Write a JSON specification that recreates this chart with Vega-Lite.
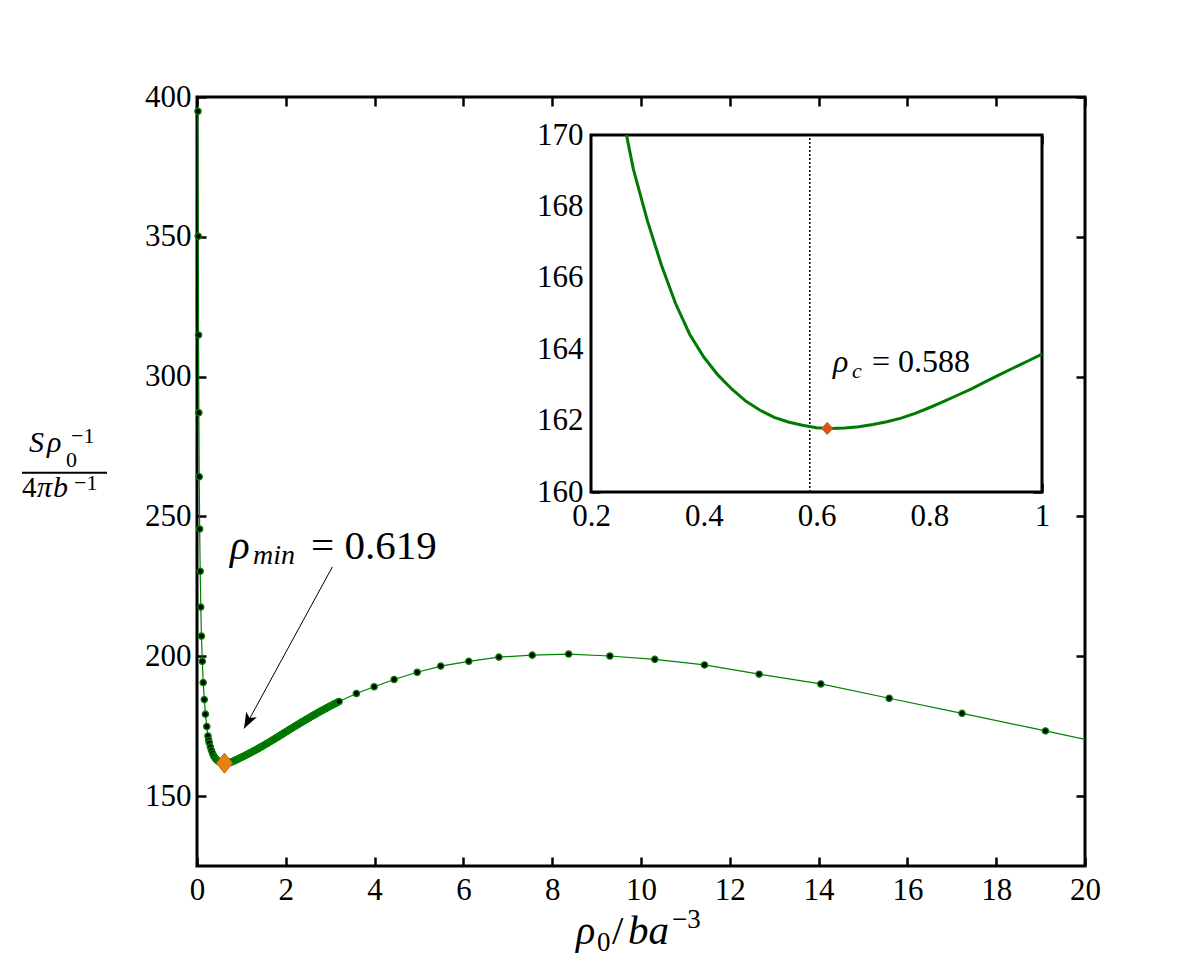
{
  "$schema": "https://vega.github.io/schema/vega-lite/v6.json",
  "width": 888,
  "height": 769,
  "autosize": {"type": "none"},
  "padding": {"left": 197, "top": 97, "right": 115, "bottom": 108},
  "background": "white",
  "config": {
    "view": {"stroke": "black", "strokeWidth": 3},
    "font": "Liberation Serif",
    "axis": {"labelFont": "Liberation Serif", "labelFontSize": 31, "labelColor": "black", "labelFlush": false, "tickColor": "black", "tickWidth": 2.5, "tickSize": -9, "domain": false, "grid": false, "title": null},
    "text": {"font": "Liberation Serif", "color": "black"}
  },
  "datasets": {
    "curve": [
      {"rho": 0.022, "S": 394.9}, {"rho": 0.028, "S": 350.2}, {"rho": 0.035, "S": 314.9}, {"rho": 0.042, "S": 287.1},
      {"rho": 0.05, "S": 264.2}, {"rho": 0.06, "S": 245.5}, {"rho": 0.072, "S": 230.4}, {"rho": 0.085, "S": 217.6},
      {"rho": 0.1, "S": 207.2}, {"rho": 0.12, "S": 198.2}, {"rho": 0.14, "S": 190.6}, {"rho": 0.165, "S": 184.5},
      {"rho": 0.19, "S": 179.3}, {"rho": 0.22, "S": 174.9}, {"rho": 0.247, "S": 171.5},
      {"rho": 0.263, "S": 170.0}, {"rho": 0.275, "S": 169.05}, {"rho": 0.3, "S": 167.6}, {"rho": 0.325, "S": 166.35},
      {"rho": 0.35, "S": 165.28}, {"rho": 0.375, "S": 164.42}, {"rho": 0.4, "S": 163.78}, {"rho": 0.425, "S": 163.28},
      {"rho": 0.45, "S": 162.88}, {"rho": 0.475, "S": 162.54}, {"rho": 0.5, "S": 162.29}, {"rho": 0.525, "S": 162.09},
      {"rho": 0.55, "S": 161.96}, {"rho": 0.575, "S": 161.87}, {"rho": 0.6, "S": 161.8}, {"rho": 0.625, "S": 161.78},
      {"rho": 0.65, "S": 161.79}, {"rho": 0.675, "S": 161.83}, {"rho": 0.7, "S": 161.89}, {"rho": 0.725, "S": 161.97},
      {"rho": 0.75, "S": 162.07}, {"rho": 0.775, "S": 162.2}, {"rho": 0.8, "S": 162.36}, {"rho": 0.825, "S": 162.53},
      {"rho": 0.85, "S": 162.71}, {"rho": 0.875, "S": 162.89}, {"rho": 0.9, "S": 163.09}, {"rho": 0.925, "S": 163.29},
      {"rho": 0.95, "S": 163.48}, {"rho": 0.975, "S": 163.67}, {"rho": 1.0, "S": 163.86},
      {"rho": 1.025, "S": 164.05}, {"rho": 1.05, "S": 164.25}, {"rho": 1.075, "S": 164.45}, {"rho": 1.1, "S": 164.65},
      {"rho": 1.125, "S": 164.85}, {"rho": 1.15, "S": 165.05}, {"rho": 1.175, "S": 165.26}, {"rho": 1.2, "S": 165.47},
      {"rho": 1.225, "S": 165.68}, {"rho": 1.25, "S": 165.89}, {"rho": 1.275, "S": 166.1}, {"rho": 1.3, "S": 166.32},
      {"rho": 1.325, "S": 166.53}, {"rho": 1.35, "S": 166.75}, {"rho": 1.375, "S": 166.97}, {"rho": 1.4, "S": 167.2},
      {"rho": 1.425, "S": 167.42}, {"rho": 1.45, "S": 167.65}, {"rho": 1.475, "S": 167.88}, {"rho": 1.5, "S": 168.11},
      {"rho": 1.525, "S": 168.34}, {"rho": 1.55, "S": 168.58}, {"rho": 1.575, "S": 168.81}, {"rho": 1.6, "S": 169.05},
      {"rho": 1.625, "S": 169.28}, {"rho": 1.65, "S": 169.52}, {"rho": 1.675, "S": 169.76}, {"rho": 1.7, "S": 170.0},
      {"rho": 1.725, "S": 170.24}, {"rho": 1.75, "S": 170.48}, {"rho": 1.775, "S": 170.72}, {"rho": 1.8, "S": 170.96},
      {"rho": 1.825, "S": 171.2}, {"rho": 1.85, "S": 171.45}, {"rho": 1.875, "S": 171.69}, {"rho": 1.9, "S": 171.94},
      {"rho": 1.925, "S": 172.19}, {"rho": 1.95, "S": 172.44}, {"rho": 1.975, "S": 172.69}, {"rho": 2.0, "S": 172.94},
      {"rho": 2.025, "S": 173.18}, {"rho": 2.05, "S": 173.43}, {"rho": 2.075, "S": 173.68}, {"rho": 2.1, "S": 173.93},
      {"rho": 2.125, "S": 174.17}, {"rho": 2.15, "S": 174.42}, {"rho": 2.175, "S": 174.66}, {"rho": 2.2, "S": 174.91},
      {"rho": 2.225, "S": 175.15}, {"rho": 2.25, "S": 175.39}, {"rho": 2.275, "S": 175.63}, {"rho": 2.3, "S": 175.87},
      {"rho": 2.325, "S": 176.11}, {"rho": 2.35, "S": 176.35}, {"rho": 2.375, "S": 176.58}, {"rho": 2.4, "S": 176.82},
      {"rho": 2.425, "S": 177.05}, {"rho": 2.45, "S": 177.29}, {"rho": 2.475, "S": 177.52}, {"rho": 2.5, "S": 177.76},
      {"rho": 2.525, "S": 177.99}, {"rho": 2.55, "S": 178.22}, {"rho": 2.575, "S": 178.45}, {"rho": 2.6, "S": 178.68},
      {"rho": 2.625, "S": 178.9}, {"rho": 2.65, "S": 179.13}, {"rho": 2.675, "S": 179.35}, {"rho": 2.7, "S": 179.58},
      {"rho": 2.725, "S": 179.8}, {"rho": 2.75, "S": 180.03}, {"rho": 2.775, "S": 180.25}, {"rho": 2.8, "S": 180.47},
      {"rho": 2.825, "S": 180.68}, {"rho": 2.85, "S": 180.9}, {"rho": 2.875, "S": 181.11}, {"rho": 2.9, "S": 181.33},
      {"rho": 2.925, "S": 181.54}, {"rho": 2.95, "S": 181.76}, {"rho": 2.975, "S": 181.97}, {"rho": 3.0, "S": 182.18},
      {"rho": 3.025, "S": 182.39}, {"rho": 3.05, "S": 182.6}, {"rho": 3.075, "S": 182.8}, {"rho": 3.1, "S": 183.01},
      {"rho": 3.125, "S": 183.21}, {"rho": 3.15, "S": 183.41}, {"rho": 3.175, "S": 183.61}, {"rho": 3.2, "S": 183.82},
      {"rho": 3.59, "S": 186.7}, {"rho": 3.99, "S": 189.1}, {"rho": 4.44, "S": 191.7}, {"rho": 4.96, "S": 194.3},
      {"rho": 5.49, "S": 196.5}, {"rho": 6.12, "S": 198.2}, {"rho": 6.8, "S": 199.7}, {"rho": 7.55, "S": 200.4},
      {"rho": 8.37, "S": 200.8}, {"rho": 9.3, "S": 200.1}, {"rho": 10.31, "S": 198.9}, {"rho": 11.43, "S": 196.9},
      {"rho": 12.66, "S": 193.6}, {"rho": 14.05, "S": 190.1}, {"rho": 15.59, "S": 185.0}, {"rho": 17.23, "S": 179.6},
      {"rho": 19.11, "S": 173.3}, {"rho": 21.3, "S": 165.9}
    ]
  },
  "layer": [
    {
      "layer": [
        {
          "data": {"name": "curve"},
          "mark": {"type": "line", "color": "#008000", "strokeWidth": 1.2, "clip": true},
          "encoding": {
            "x": {"field": "rho", "type": "quantitative", "scale": {"domain": [0, 20], "nice": false, "zero": false},
                  "axis": {"orient": "bottom", "values": [0, 2, 4, 6, 8, 10, 12, 14, 16, 18, 20], "labelPadding": 18}},
            "y": {"field": "S", "type": "quantitative", "scale": {"domain": [125, 400], "nice": false, "zero": false},
                  "axis": {"orient": "left", "values": [150, 200, 250, 300, 350, 400], "labelPadding": 15}}
          }
        },
        {
          "data": {"name": "curve"},
          "transform": [{"filter": "datum.rho <= 20"}],
          "mark": {"type": "circle", "fill": "black", "stroke": "#008000", "strokeWidth": 1.4, "size": 38, "opacity": 1},
          "encoding": {
            "x": {"field": "rho", "type": "quantitative", "scale": {"domain": [0, 20], "nice": false, "zero": false},
                  "axis": {"orient": "top", "labels": false, "values": [0, 2, 4, 6, 8, 10, 12, 14, 16, 18, 20]}},
            "y": {"field": "S", "type": "quantitative", "scale": {"domain": [125, 400], "nice": false, "zero": false},
                  "axis": {"orient": "right", "labels": false, "values": [150, 200, 250, 300, 350, 400]}}
          }
        },
        {
          "data": {"values": [{"rho": 0.619, "S": 161.78}]},
          "mark": {"type": "point", "shape": "M0,-1L0.8,0L0,1L-0.8,0Z", "filled": true, "fill": "#e8820e", "stroke": "#c8640a", "strokeWidth": 1, "size": 400, "opacity": 1},
          "encoding": {
            "x": {"field": "rho", "type": "quantitative", "scale": {"domain": [0, 20], "nice": false, "zero": false}, "axis": null},
            "y": {"field": "S", "type": "quantitative", "scale": {"domain": [125, 400], "nice": false, "zero": false}, "axis": null}
          }
        },
        {
          "data": {"values": [{"x": 3.05, "y": 232.0, "x2": 1.065, "y2": 174.2}]},
          "mark": {"type": "rule", "color": "black", "strokeWidth": 1},
          "encoding": {
            "x": {"field": "x", "type": "quantitative", "scale": {"domain": [0, 20], "nice": false, "zero": false}, "axis": null},
            "y": {"field": "y", "type": "quantitative", "scale": {"domain": [125, 400], "nice": false, "zero": false}, "axis": null},
            "x2": {"field": "x2"},
            "y2": {"field": "y2"}
          }
        },
        {
          "data": {"values": [{"x": 1.06, "y": 174.2}]},
          "mark": {"type": "point", "shape": "M0,0L-0.38,1L0,0.75L0.38,1Z", "filled": true, "fill": "black", "size": 1000, "angle": 208, "opacity": 1},
          "encoding": {
            "x": {"field": "x", "type": "quantitative", "scale": {"domain": [0, 20], "nice": false, "zero": false}, "axis": null},
            "y": {"field": "y", "type": "quantitative", "scale": {"domain": [125, 400], "nice": false, "zero": false}, "axis": null}
          }
        },
        {
          "data": {"values": [{"x": 0.743, "y": 234.76, "t": "ρ"}, {"x": 9.707, "y": 97.07, "t": "ba"}]},
          "mark": {"type": "text", "font": "Liberation Serif", "align": "left", "baseline": "alphabetic", "fontSize": 41, "fontStyle": "italic"},
          "encoding": {
            "x": {"field": "x", "type": "quantitative", "scale": {"domain": [0, 20], "nice": false, "zero": false}, "axis": null},
            "y": {"field": "y", "type": "quantitative", "scale": {"domain": [125, 400], "nice": false, "zero": false}, "axis": null},
            "text": {"field": "t"}
          }
        },
        {
          "data": {"values": [{"x": 8.536, "y": 97.07, "t": "ρ"}]},
          "mark": {"type": "text", "font": "Liberation Serif", "align": "left", "baseline": "alphabetic", "fontSize": 40, "fontStyle": "italic"},
          "encoding": {
            "x": {"field": "x", "type": "quantitative", "scale": {"domain": [0, 20], "nice": false, "zero": false}, "axis": null},
            "y": {"field": "y", "type": "quantitative", "scale": {"domain": [125, 400], "nice": false, "zero": false}, "axis": null},
            "text": {"field": "t"}
          }
        },
        {
          "data": {"values": [{"x": 1.261, "y": 232.97, "t": "min"}]},
          "mark": {"type": "text", "font": "Liberation Serif", "align": "left", "baseline": "alphabetic", "fontSize": 28, "fontStyle": "italic"},
          "encoding": {
            "x": {"field": "x", "type": "quantitative", "scale": {"domain": [0, 20], "nice": false, "zero": false}, "axis": null},
            "y": {"field": "y", "type": "quantitative", "scale": {"domain": [125, 400], "nice": false, "zero": false}, "axis": null},
            "text": {"field": "t"}
          }
        },
        {
          "data": {"values": [{"x": 2.568, "y": 234.76, "t": "= 0.619"}, {"x": 9.347, "y": 97.07, "t": "/"}]},
          "mark": {"type": "text", "font": "Liberation Serif", "align": "left", "baseline": "alphabetic", "fontSize": 41},
          "encoding": {
            "x": {"field": "x", "type": "quantitative", "scale": {"domain": [0, 20], "nice": false, "zero": false}, "axis": null},
            "y": {"field": "y", "type": "quantitative", "scale": {"domain": [125, 400], "nice": false, "zero": false}, "axis": null},
            "text": {"field": "t"}
          }
        },
        {
          "data": {"values": [{"x": 9.009, "y": 94.56, "t": "0"}, {"x": 10.698, "y": 102.79, "t": "−3"}]},
          "mark": {"type": "text", "font": "Liberation Serif", "align": "left", "baseline": "alphabetic", "fontSize": 27},
          "encoding": {
            "x": {"field": "x", "type": "quantitative", "scale": {"domain": [0, 20], "nice": false, "zero": false}, "axis": null},
            "y": {"field": "y", "type": "quantitative", "scale": {"domain": [125, 400], "nice": false, "zero": false}, "axis": null},
            "text": {"field": "t"}
          }
        },
        {
          "data": {"values": [{"x": -3.784, "y": 273.03, "t": "S"}, {"x": -3.378, "y": 273.03, "t": "ρ"}, {"x": -3.604, "y": 256.94, "t": "π"}, {"x": -3.243, "y": 256.94, "t": "b"}]},
          "mark": {"type": "text", "font": "Liberation Serif", "align": "left", "baseline": "alphabetic", "fontSize": 30, "fontStyle": "italic"},
          "encoding": {
            "x": {"field": "x", "type": "quantitative", "scale": {"domain": [0, 20], "nice": false, "zero": false}, "axis": null},
            "y": {"field": "y", "type": "quantitative", "scale": {"domain": [125, 400], "nice": false, "zero": false}, "axis": null},
            "text": {"field": "t"}
          }
        },
        {
          "data": {"values": [{"x": -3.941, "y": 256.94, "t": "4"}]},
          "mark": {"type": "text", "font": "Liberation Serif", "align": "left", "baseline": "alphabetic", "fontSize": 29},
          "encoding": {
            "x": {"field": "x", "type": "quantitative", "scale": {"domain": [0, 20], "nice": false, "zero": false}, "axis": null},
            "y": {"field": "y", "type": "quantitative", "scale": {"domain": [125, 400], "nice": false, "zero": false}, "axis": null},
            "text": {"field": "t"}
          }
        },
        {
          "data": {"values": [{"x": -2.95, "y": 267.85, "t": "0"}, {"x": -2.838, "y": 276.25, "t": "−1"}, {"x": -2.77, "y": 259.44, "t": "−1"}]},
          "mark": {"type": "text", "font": "Liberation Serif", "align": "left", "baseline": "alphabetic", "fontSize": 22},
          "encoding": {
            "x": {"field": "x", "type": "quantitative", "scale": {"domain": [0, 20], "nice": false, "zero": false}, "axis": null},
            "y": {"field": "y", "type": "quantitative", "scale": {"domain": [125, 400], "nice": false, "zero": false}, "axis": null},
            "text": {"field": "t"}
          }
        },
        {
          "data": {"values": [{"x": -3.941, "x2": -2.027, "y": 265.63}]},
          "mark": {"type": "rule", "color": "black", "strokeWidth": 2},
          "encoding": {
            "x": {"field": "x", "type": "quantitative", "scale": {"domain": [0, 20], "nice": false, "zero": false}, "axis": null},
            "x2": {"field": "x2"},
            "y": {"field": "y", "type": "quantitative", "scale": {"domain": [125, 400], "nice": false, "zero": false}, "axis": null}
          }
        }
      ],
      "resolve": {"axis": {"x": "independent", "y": "independent"}}
    },
    {
      "layer": [
        {
          "data": {"values": [{"x1": 0.2, "x2": 1, "y1": 160, "y2": 170}]},
          "mark": {"type": "rect", "fill": "white", "stroke": "black", "strokeWidth": 3},
          "encoding": {
            "x": {"field": "x1", "type": "quantitative", "scale": {"domain": [0.2, 1], "range": [394, 845], "nice": false, "zero": false},
                  "axis": {"orient": "bottom", "offset": -374, "values": [0.2, 0.4, 0.6, 0.8, 1], "format": "~g", "labelPadding": 18}},
            "x2": {"field": "x2"},
            "y": {"field": "y1", "type": "quantitative", "scale": {"domain": [160, 170], "range": [395, 38], "nice": false, "zero": false},
                  "axis": {"orient": "left", "offset": -394, "values": [160, 162, 164, 166, 168, 170], "labelPadding": 17}},
            "y2": {"field": "y2"}
          }
        },
        {
          "data": {"values": [{"rc": 0.588, "y1": 160, "y2": 170}]},
          "mark": {"type": "rule", "color": "black", "strokeWidth": 1.5, "strokeDash": [2, 2]},
          "encoding": {
            "x": {"field": "rc", "type": "quantitative", "scale": {"domain": [0.2, 1], "range": [394, 845], "nice": false, "zero": false},
                  "axis": {"orient": "top", "offset": -38, "labels": false, "values": [0.2, 0.4, 0.6, 0.8, 1]}},
            "y": {"field": "y1", "type": "quantitative", "scale": {"domain": [160, 170], "range": [395, 38], "nice": false, "zero": false},
                  "axis": {"orient": "right", "offset": -43, "labels": false, "values": [160, 162, 164, 166, 168, 170]}},
            "y2": {"field": "y2"}
          }
        },
        {
          "data": {"name": "curve"},
          "transform": [{"filter": "datum.rho >= 0.26 && datum.rho <= 1.001"}],
          "mark": {"type": "line", "color": "#007a00", "strokeWidth": 3},
          "encoding": {
            "x": {"field": "rho", "type": "quantitative", "scale": {"domain": [0.2, 1], "range": [394, 845], "nice": false, "zero": false}, "axis": null},
            "y": {"field": "S", "type": "quantitative", "scale": {"domain": [160, 170], "range": [395, 38], "nice": false, "zero": false}, "axis": null}
          }
        },
        {
          "data": {"values": [{"rho": 0.619, "S": 161.78}]},
          "mark": {"type": "point", "shape": "M0,-1L0.9,0L0,1L-0.9,0Z", "filled": true, "fill": "#d95319", "stroke": "#d95319", "strokeWidth": 1, "size": 150, "opacity": 1},
          "encoding": {
            "x": {"field": "rho", "type": "quantitative", "scale": {"domain": [0.2, 1], "range": [394, 845], "nice": false, "zero": false}, "axis": null},
            "y": {"field": "S", "type": "quantitative", "scale": {"domain": [160, 170], "range": [395, 38], "nice": false, "zero": false}, "axis": null}
          }
        },
        {
          "data": {"values": [{"x": 0.6293, "y": 163.35, "t": "ρ"}]},
          "mark": {"type": "text", "font": "Liberation Serif", "align": "left", "baseline": "alphabetic", "fontSize": 32, "fontStyle": "italic"},
          "encoding": {
            "x": {"field": "x", "type": "quantitative", "scale": {"domain": [0.2, 1], "range": [394, 845], "nice": false, "zero": false}, "axis": null},
            "y": {"field": "y", "type": "quantitative", "scale": {"domain": [160, 170], "range": [395, 38], "nice": false, "zero": false}, "axis": null},
            "text": {"field": "t"}
          }
        },
        {
          "data": {"values": [{"x": 0.663, "y": 163.18, "t": "c"}]},
          "mark": {"type": "text", "font": "Liberation Serif", "align": "left", "baseline": "alphabetic", "fontSize": 22, "fontStyle": "italic"},
          "encoding": {
            "x": {"field": "x", "type": "quantitative", "scale": {"domain": [0.2, 1], "range": [394, 845], "nice": false, "zero": false}, "axis": null},
            "y": {"field": "y", "type": "quantitative", "scale": {"domain": [160, 170], "range": [395, 38], "nice": false, "zero": false}, "axis": null},
            "text": {"field": "t"}
          }
        },
        {
          "data": {"values": [{"x": 0.6984, "y": 163.35, "t": "= 0.588"}]},
          "mark": {"type": "text", "font": "Liberation Serif", "align": "left", "baseline": "alphabetic", "fontSize": 32},
          "encoding": {
            "x": {"field": "x", "type": "quantitative", "scale": {"domain": [0.2, 1], "range": [394, 845], "nice": false, "zero": false}, "axis": null},
            "y": {"field": "y", "type": "quantitative", "scale": {"domain": [160, 170], "range": [395, 38], "nice": false, "zero": false}, "axis": null},
            "text": {"field": "t"}
          }
        }
      ],
      "resolve": {"axis": {"x": "independent", "y": "independent"}}
    }
  ],
  "resolve": {"scale": {"x": "independent", "y": "independent"}}
}
